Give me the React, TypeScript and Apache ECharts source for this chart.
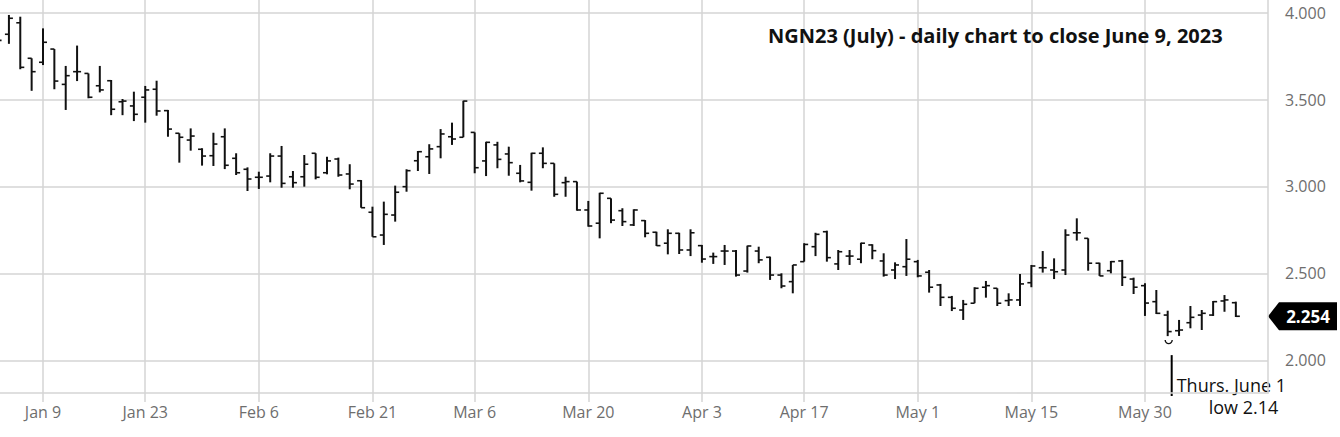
import React, { useEffect, useRef } from "react";
import * as echarts from "echarts";

const dates = [
  "Jan 3","Jan 4","Jan 5","Jan 6","Jan 9","Jan 10","Jan 11","Jan 12","Jan 13","Jan 17",
  "Jan 18","Jan 19","Jan 20","Jan 23","Jan 24","Jan 25","Jan 26","Jan 27","Jan 30","Jan 31",
  "Feb 1","Feb 2","Feb 3","Feb 6","Feb 7","Feb 8","Feb 9","Feb 10","Feb 13","Feb 14",
  "Feb 15","Feb 16","Feb 17","Feb 21","Feb 22","Feb 23","Feb 24","Feb 27","Feb 28","Mar 1",
  "Mar 2","Mar 3","Mar 6","Mar 7","Mar 8","Mar 9","Mar 10","Mar 13","Mar 14","Mar 15",
  "Mar 16","Mar 17","Mar 20","Mar 21","Mar 22","Mar 23","Mar 24","Mar 27","Mar 28","Mar 29",
  "Mar 30","Mar 31","Apr 3","Apr 4","Apr 5","Apr 6","Apr 10","Apr 11","Apr 12","Apr 13",
  "Apr 14","Apr 17","Apr 18","Apr 19","Apr 20","Apr 21","Apr 24","Apr 25","Apr 26","Apr 27",
  "Apr 28","May 1","May 2","May 3","May 4","May 5","May 8","May 9","May 10","May 11",
  "May 12","May 15","May 16","May 17","May 18","May 19","May 22","May 23","May 24","May 25",
  "May 26","May 30","May 31","Jun 1","Jun 2","Jun 5","Jun 6","Jun 7","Jun 8","Jun 9",
];

const open = [
  3.80, 3.875, 3.941, 3.737, 3.714, 3.79, 3.587, 3.66, 3.65, 3.579,
  3.608, 3.487, 3.463, 3.513, 3.559, 3.436, 3.306, 3.267, 3.214, 3.177,
  3.286, 3.162, 3.099, 3.053, 3.06, 3.175, 3.056, 3.056, 3.191, 3.079,
  3.158, 3.072, 3.033, 2.852, 2.721, 2.836, 2.999, 3.148, 3.171, 3.229,
  3.286, 3.283, 3.311, 3.147, 3.239, 3.187, 3.076, 3.024, 3.191, 3.133,
  3.022, 3.028, 2.865, 2.789, 2.932, 2.861, 2.779, 2.804, 2.737, 2.674,
  2.731, 2.635, 2.66, 2.597, 2.629, 2.629, 2.514, 2.629, 2.593, 2.491,
  2.453, 2.568, 2.654, 2.74, 2.555, 2.60, 2.582, 2.664, 2.572, 2.52,
  2.539, 2.568, 2.507, 2.434, 2.363, 2.29, 2.329, 2.421, 2.415, 2.344,
  2.348, 2.447, 2.533, 2.52, 2.52, 2.734, 2.702, 2.559, 2.516, 2.572,
  2.468, 2.43, 2.338, 2.261, 2.171, 2.217, 2.261, 2.261, 2.342, 2.332,
];
const high = [
  3.88, 3.986, 3.976, 3.737, 3.909, 3.79, 3.693, 3.81, 3.65, 3.693,
  3.612, 3.503, 3.545, 3.578, 3.608, 3.44, 3.306, 3.334, 3.22, 3.309,
  3.334, 3.191, 3.11, 3.085, 3.191, 3.233, 3.089, 3.181, 3.191, 3.171,
  3.166, 3.128, 3.037, 2.884, 2.913, 3.005, 3.099, 3.204, 3.243, 3.33,
  3.367, 3.493, 3.311, 3.257, 3.257, 3.229, 3.124, 3.194, 3.225, 3.133,
  3.056, 3.028, 2.917, 2.964, 2.932, 2.875, 2.869, 2.807, 2.74, 2.754,
  2.734, 2.754, 2.664, 2.62, 2.664, 2.635, 2.66, 2.654, 2.597, 2.501,
  2.549, 2.674, 2.734, 2.746, 2.635, 2.635, 2.677, 2.668, 2.616, 2.564,
  2.698, 2.578, 2.52, 2.44, 2.371, 2.348, 2.421, 2.457, 2.415, 2.386,
  2.497, 2.549, 2.629, 2.587, 2.754, 2.817, 2.702, 2.562, 2.572, 2.578,
  2.476, 2.444, 2.405, 2.286, 2.233, 2.313, 2.29, 2.342, 2.376, 2.338,
];
const low = [
  3.78, 3.82, 3.674, 3.55, 3.698, 3.559, 3.44, 3.606, 3.507, 3.541,
  3.41, 3.41, 3.376, 3.367, 3.407, 3.286, 3.137, 3.206, 3.12, 3.118,
  3.10, 3.066, 2.974, 2.986, 3.024, 2.993, 2.993, 2.999, 3.041, 3.07,
  3.056, 2.984, 2.878, 2.711, 2.664, 2.798, 2.97, 3.089, 3.072, 3.162,
  3.239, 3.283, 3.076, 3.06, 3.105, 3.062, 3.024, 2.976, 3.105, 2.941,
  2.941, 2.861, 2.769, 2.702, 2.789, 2.773, 2.773, 2.708, 2.658, 2.61,
  2.612, 2.60, 2.562, 2.555, 2.549, 2.482, 2.505, 2.559, 2.463, 2.415,
  2.386, 2.568, 2.60, 2.568, 2.52, 2.549, 2.559, 2.582, 2.482, 2.468,
  2.486, 2.478, 2.39, 2.313, 2.284, 2.233, 2.329, 2.361, 2.313, 2.313,
  2.313, 2.421, 2.505, 2.468, 2.491, 2.689, 2.516, 2.486, 2.501, 2.428,
  2.382, 2.256, 2.267, 2.14, 2.141, 2.185, 2.175, 2.256, 2.28, 2.25,
];
const close = [
  3.84, 3.967, 3.685, 3.66, 3.829, 3.606, 3.637, 3.66, 3.513, 3.555,
  3.444, 3.491, 3.415, 3.555, 3.434, 3.33, 3.283, 3.29, 3.175, 3.244,
  3.122, 3.079, 3.043, 3.053, 3.175, 3.018, 3.022, 3.128, 3.053, 3.147,
  3.066, 3.014, 2.878, 2.711, 2.84, 2.967, 3.091, 3.20, 3.216, 3.302,
  3.273, 3.491, 3.108, 3.254, 3.156, 3.137, 3.032, 3.191, 3.133, 2.955,
  3.028, 2.865, 2.773, 2.961, 2.807, 2.798, 2.865, 2.731, 2.66, 2.731,
  2.635, 2.734, 2.583, 2.597, 2.629, 2.491, 2.658, 2.578, 2.491, 2.428,
  2.549, 2.667, 2.725, 2.591, 2.625, 2.60, 2.674, 2.631, 2.491, 2.549,
  2.582, 2.486, 2.421, 2.363, 2.30, 2.323, 2.415, 2.43, 2.329, 2.348,
  2.44, 2.543, 2.533, 2.51, 2.721, 2.734, 2.559, 2.486, 2.568, 2.478,
  2.421, 2.33, 2.271, 2.166, 2.175, 2.248, 2.271, 2.338, 2.348, 2.254,
];

const xTickLabels = ["Jan 9", "Jan 23", "Feb 6", "Feb 21", "Mar 6", "Mar 20", "Apr 3", "Apr 17", "May 1", "May 15", "May 30"];
const yTicks = [2, 2.5, 3, 3.5, 4];
const titleText = "NGN23 (July) - daily chart to close June 9, 2023";
const noteDate = "Jun 1";
const noteLine1 = "Thurs. June 1";
const noteLine2 = "low 2.14";

const X_MIN = 0.215;
const X_MAX = 111.83;
const Y_MIN = 1.813;
const Y_MAX = 4.072;

const GRID = "#d4d4d4";
const AXIS_TEXT = "#6e6e6e";
const NOTE_FONT = "'Open Sans', sans-serif";

export default function App() {
  const ref = useRef<HTMLDivElement>(null);

  useEffect(() => {
    const chart = echarts.init(ref.current!, null, { renderer: "svg" });
    const data = dates.map((_, i) => [i, open[i], high[i], low[i], close[i]]);
    const tickIdx = xTickLabels.map((d) => dates.indexOf(d));

    chart.setOption({
      animation: false,
      backgroundColor: "#ffffff",
      title: {
        text: titleText,
        left: 768,
        top: 25,
        padding: 0,
        textStyle: { fontFamily: NOTE_FONT, fontSize: 20, fontWeight: "bold", color: "#111" },
      },
      grid: { left: 0, right: 72, top: 0, bottom: 44 },
      xAxis: {
        type: "value",
        min: X_MIN,
        max: X_MAX,
        axisLine: { show: true, lineStyle: { color: GRID, width: 1.5 } },
        axisTick: { show: true, length: 9, customValues: tickIdx, lineStyle: { color: GRID, width: 1.5 } },
        axisLabel: {
          customValues: tickIdx,
          formatter: (v: number) => dates[Math.round(v)],
          color: AXIS_TEXT,
          fontFamily: "'Open Sans', sans-serif",
          fontSize: 16,
          margin: 11,
        },
        splitLine: { show: true, lineStyle: { color: GRID, width: 1.5 } },
      },
      yAxis: {
        type: "value",
        position: "right",
        min: Y_MIN,
        max: Y_MAX,
        axisLine: { show: true, lineStyle: { color: GRID, width: 1.5 } },
        axisTick: { show: false, customValues: yTicks },
        axisLabel: {
          customValues: yTicks,
          formatter: (v: number) => v.toFixed(3),
          color: AXIS_TEXT,
          fontFamily: "'Open Sans', sans-serif",
          fontSize: 16,
          margin: 17,
        },
        splitLine: { show: true, lineStyle: { color: GRID, width: 1.5 } },
      },
      series: [
        {
          type: "custom",
          clip: true,
          data,
          encode: { x: 0, y: [1, 2, 3, 4] },
          renderItem: (_params: any, api: any) => {
            const i = api.value(0);
            const o = api.coord([i, api.value(1)]);
            const h = api.coord([i, api.value(2)]);
            const l = api.coord([i, api.value(3)]);
            const c = api.coord([i, api.value(4)]);
            const x = o[0];
            return {
              type: "group",
              children: [
                { type: "line", shape: { x1: x, y1: h[1], x2: x, y2: l[1] }, style: { stroke: "#111", lineWidth: 2 } },
                { type: "line", shape: { x1: x - 4, y1: o[1], x2: x, y2: o[1] }, style: { stroke: "#111", lineWidth: 1.6 } },
                { type: "line", shape: { x1: x, y1: c[1], x2: x + 4, y2: c[1] }, style: { stroke: "#111", lineWidth: 1.6 } },
              ],
            };
          },
        },
      ],
    });

    const ni = dates.indexOf(noteDate);
    const [jx, jy] = chart.convertToPixel({ gridIndex: 0 }, [ni, low[ni]]) as number[];
    const yb = (chart.convertToPixel({ gridIndex: 0 }, [X_MIN, Y_MIN]) as number[])[1];
    const xr = (chart.convertToPixel({ gridIndex: 0 }, [X_MAX, Y_MIN]) as number[])[0];
    const lastClose = close[close.length - 1];
    const ly = (chart.convertToPixel({ gridIndex: 0 }, [X_MIN, lastClose]) as number[])[1];

    chart.setOption({
      graphic: [
        {
          type: "arc",
          shape: { cx: jx + 1, cy: jy + 4, r: 3.5, startAngle: 0, endAngle: Math.PI },
          style: { stroke: "#111", fill: "none", lineWidth: 1.4 },
        },
        {
          type: "line",
          shape: { x1: jx + 4, y1: jy + 19, x2: jx + 4, y2: yb + 3 },
          style: { stroke: "#000", lineWidth: 2 },
        },
        {
          type: "text",
          x: jx + 9,
          y: yb - 8,
          style: { text: noteLine1, fill: "#111", font: `18px ${NOTE_FONT}`, textAlign: "left", textVerticalAlign: "middle" },
        },
        {
          type: "text",
          x: jx + 41,
          y: yb + 14,
          style: { text: noteLine2, fill: "#111", font: `18px ${NOTE_FONT}`, textAlign: "left", textVerticalAlign: "middle" },
        },
        {
          type: "polygon",
          shape: {
            points: [
              [xr, ly],
              [xr + 11, ly - 14],
              [xr + 69, ly - 14],
              [xr + 69, ly + 14],
              [xr + 11, ly + 14],
            ],
          },
          style: { fill: "#000" },
        },
        {
          type: "text",
          x: xr + 40,
          y: ly,
          style: {
            text: lastClose.toFixed(3),
            fill: "#fff",
            font: "bold 17px 'Open Sans', sans-serif",
            textAlign: "center",
            textVerticalAlign: "middle",
          },
        },
      ],
    });

    return () => chart.dispose();
  }, []);

  return <div ref={ref} style={{ position: "absolute", left: 0, top: 0, width: 1340, height: 437 }} />;
}
